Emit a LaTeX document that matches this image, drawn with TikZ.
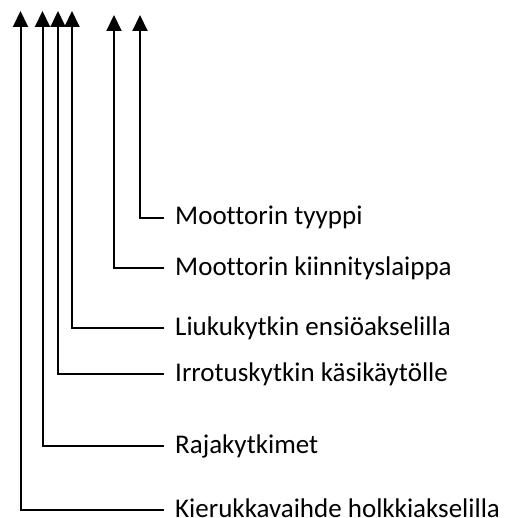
\documentclass[tikz,border=0pt]{standalone}
\usepackage{fontspec}
\setmainfont{Carlito}[Ligatures=NoCommon]
\usetikzlibrary{arrows.meta}
\begin{document}
\begin{tikzpicture}[x=1pt,y=-1pt,
  lab/.style={anchor=base west,inner sep=0pt,font=\fontsize{27}{30}\selectfont},
  lead/.style={line width=2pt,-{Triangle[width=15pt,length=16pt]}}]
  \useasboundingbox (0,0) rectangle (504,518);
  % arrow tips along the top edge
  \coordinate (t1) at (20.5,11);
  \coordinate (t2) at (42.5,11);
  \coordinate (t3) at (58,11);
  \coordinate (t4) at (72,11);
  \coordinate (t5) at (114,15);
  \coordinate (t6) at (140,15);
  % labels (placed on their baselines)
  \node[lab] (l6) at (175,225) {Moottorin tyyppi};
  \node[lab] (l5) at (175,275) {Moottorin kiinnityslaippa};
  \node[lab] (l4) at (175,335) {Liukukytkin ensiöakselilla};
  \node[lab] (l3) at (175,381) {Irrotuskytkin käsikäytölle};
  \node[lab] (l2) at (175,453) {Rajakytkimet};
  \node[lab] (l1) at (175,517) {Kierukkavaihde holkkiakselilla};
  % leaders: from just left of each label, round the corner, up to its tip
  \foreach \i in {1,...,6}
    \draw[lead] ([xshift=-11pt,yshift=7pt]l\i.base west) -| (t\i);
\end{tikzpicture}
\end{document}
